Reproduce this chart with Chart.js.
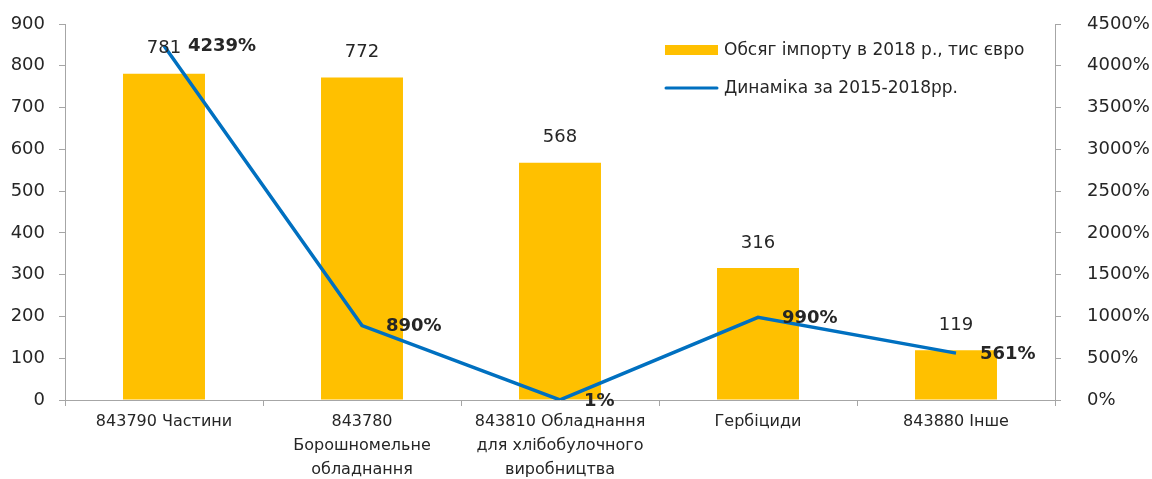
<!DOCTYPE html>
<html>
<head>
<meta charset="utf-8">
<script src="https://cdn.jsdelivr.net/npm/chart.js@4"></script>
<style>
  html, body { margin: 0; padding: 0; background: #ffffff; }
  #wrap { width: 1152px; height: 479px; }
</style>
</head>
<body>
<div id="wrap"><canvas id="chart" width="1152" height="479"></canvas></div>
<script>
// Import volume by product code, 2018, and growth over 2015-2018
const categories = [
  '843790 Частини',
  ['843780', 'Борошномельне', 'обладнання'],
  ['843810 Обладнання', 'для хлібобулочного', 'виробництва'],
  'Гербіциди',
  '843880 Інше'
];
const importVolume = [781, 772, 568, 316, 119];
const growthPct = [4239, 890, 1, 990, 561];
const seriesNames = ['Обсяг імпорту в 2018 р., тис євро', 'Динаміка за 2015-2018рр.'];

const FONT = 'DejaVu Sans, sans-serif';
const TEXT = '#262626';
const AXIS = '#a6a6a6';
const BAR = '#ffc000';
const LINE = '#0070c0';

// value labels: plain above bars, bold to the right of line points
const valueLabels = {
  id: 'valueLabels',
  afterDatasetsDraw(chart) {
    const ctx = chart.ctx;
    ctx.save();
    ctx.fillStyle = TEXT;
    ctx.textBaseline = 'middle';

    const bars = chart.getDatasetMeta(0).data;
    ctx.font = '18px ' + FONT;
    ctx.textAlign = 'center';
    bars.forEach((b, i) => ctx.fillText(String(importVolume[i]), b.x, b.y - 25));

    const pts = chart.getDatasetMeta(1).data;
    ctx.font = 'bold 18px ' + FONT;
    ctx.textAlign = 'left';
    pts.forEach((p, i) => ctx.fillText(growthPct[i] + '%', p.x + 24, p.y + 1));
    ctx.restore();
  }
};

// legend sits inside the plot, top right
const innerLegend = {
  id: 'innerLegend',
  afterDraw(chart) {
    const ctx = chart.ctx;
    const x = 665, w = 53;
    ctx.save();
    ctx.fillStyle = BAR;
    ctx.fillRect(x, 45, w, 10);
    ctx.strokeStyle = LINE;
    ctx.lineWidth = 3;
    ctx.lineCap = 'round';
    ctx.beginPath();
    ctx.moveTo(x + 1, 88);
    ctx.lineTo(x + w - 1, 88);
    ctx.stroke();
    ctx.fillStyle = TEXT;
    ctx.font = '17px ' + FONT;
    ctx.textAlign = 'left';
    ctx.textBaseline = 'middle';
    ctx.fillText(seriesNames[0], 724, 51);
    ctx.fillText(seriesNames[1], 724, 89);
    ctx.restore();
  }
};

// fixed axis widths; vertical axes don't push the plot area down
function fixWidth(w) {
  return s => { s.width = w; s.paddingTop = 0; s.paddingBottom = 0; };
}

new Chart(document.getElementById('chart'), {
  data: {
    labels: categories,
    datasets: [
      {
        type: 'bar',
        label: seriesNames[0],
        data: importVolume,
        yAxisID: 'y',
        backgroundColor: BAR,
        categoryPercentage: 1,
        barPercentage: 0.414,
        order: 1
      },
      {
        type: 'line',
        label: seriesNames[1],
        data: growthPct,
        yAxisID: 'y1',
        borderColor: LINE,
        borderWidth: 3.5,
        pointRadius: 0,
        tension: 0,
        order: 0
      }
    ]
  },
  options: {
    responsive: false,
    animation: false,
    layout: { padding: { top: 24, left: 0, right: 0, bottom: 0 } },
    plugins: {
      legend: { display: false },
      tooltip: { enabled: false }
    },
    scales: {
      x: {
        grid: { display: true, drawOnChartArea: false, color: AXIS, tickLength: 6, offset: true },
        border: { color: AXIS, width: 1 },
        ticks: { color: TEXT, font: { family: FONT, size: 16, lineHeight: 1.5 }, padding: 4, maxRotation: 0, autoSkip: false },
        afterFit(s) { s.height = 79; }
      },
      y: {
        position: 'left',
        min: 0, max: 900,
        ticks: { stepSize: 100, color: TEXT, font: { family: FONT, size: 18 }, padding: 14 },
        grid: { drawOnChartArea: false, color: AXIS, tickLength: 6 },
        border: { color: AXIS, width: 1 },
        afterFit: fixWidth(65)
      },
      y1: {
        position: 'right',
        min: 0, max: 4500,
        ticks: { stepSize: 500, color: TEXT, font: { family: FONT, size: 18 }, padding: 26, callback: v => v + '%' },
        grid: { drawOnChartArea: false, color: AXIS, tickLength: 6 },
        border: { color: AXIS, width: 1 },
        afterFit: fixWidth(97)
      }
    }
  },
  plugins: [valueLabels, innerLegend]
});
</script>
</body>
</html>
